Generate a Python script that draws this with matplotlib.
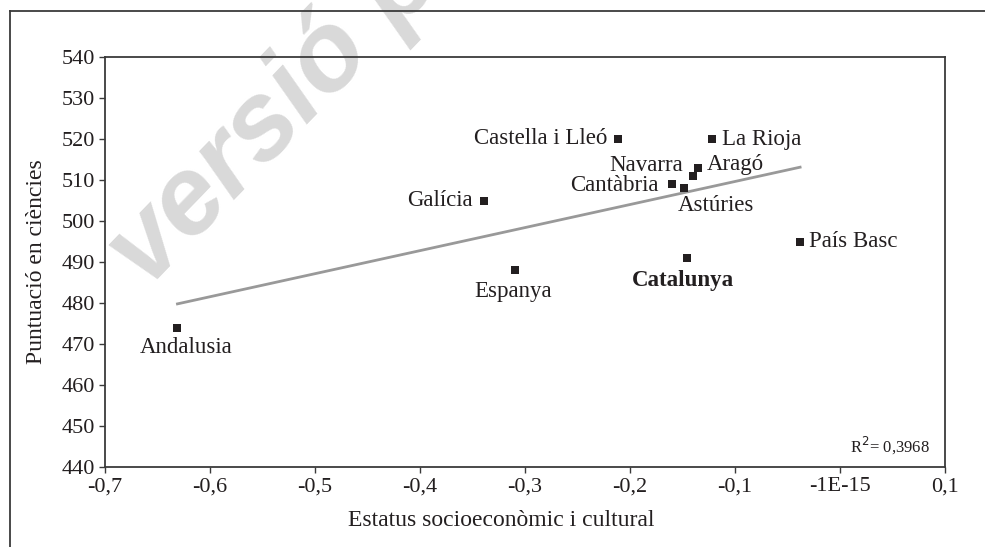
import numpy as np
import matplotlib
matplotlib.use("Agg")
import matplotlib.pyplot as plt
from matplotlib.lines import Line2D

# ---- data ----
regions = ["Andalusia", "Galícia", "Espanya", "Castella i Lleó", "Cantàbria",
           "Astúries", "Catalunya", "Navarra", "Aragó", "La Rioja", "País Basc"]
escs = [-0.631, -0.339, -0.310, -0.211, -0.160, -0.149, -0.146, -0.140, -0.135, -0.122, -0.038]
score = [474, 505, 488, 520, 509, 508, 491, 511, 513, 520, 495]
xticks = [-0.7, -0.6, -0.5, -0.4, -0.3, -0.2, -0.1, 0.0, 0.1]
xtick_labels = ["-0,7", "-0,6", "-0,5", "-0,4", "-0,3", "-0,2", "-0,1", "-1E-15", "0,1"]
yticks = [440, 450, 460, 470, 480, 490, 500, 510, 520, 530, 540]
r2_text = "R$^2$= 0,3968"

# label placement (offset in pixels, alignment)
label_pos = {
    "Andalusia": ((9, -20), "center", "center"),
    "Galícia": ((-11, 0), "right", "center"),
    "Espanya": ((-1, -21), "center", "center"),
    "Castella i Lleó": ((-11, 0), "right", "center"),
    "Cantàbria": ((-13, -1), "right", "center"),
    "Astúries": ((-6, -17), "left", "center"),
    "Catalunya": ((-4, -23), "center", "center"),
    "Navarra": ((-10, 10), "right", "center"),
    "Aragó": ((9, 3), "left", "center"),
    "La Rioja": ((10, 0), "left", "center"),
    "País Basc": ((9, 0), "left", "center"),
}

TXT = "#231f20"
LINE = "#3a3a3a"
plt.rcParams["font.family"] = ["Liberation Serif", "DejaVu Serif"]

W, H = 985, 547
fig = plt.figure(figsize=(W / 100, H / 100), dpi=100)
fig.patch.set_facecolor("white")

# watermark (behind the chart)
fig.text(0.150, 0.470, "versió p", fontsize=80, fontweight="bold", style="italic",
         family=["Liberation Sans", "DejaVu Sans"], color="#d9d9d9",
         rotation=46, rotation_mode="anchor", ha="left", va="baseline", zorder=-1)

# outer frame lines
fig.add_artist(Line2D([10 / W, 1.0], [1 - 11 / H, 1 - 11 / H], transform=fig.transFigure,
                      color=LINE, lw=1.3, zorder=1))
fig.add_artist(Line2D([10 / W, 10 / W], [0.0, 1 - 11 / H], transform=fig.transFigure,
                      color=LINE, lw=1.3, zorder=1))

L, R, T, B = 105, 945, 57, 467
ax = fig.add_axes([L / W, 1 - B / H, (R - L) / W, (B - T) / H])
ax.set_facecolor("none")
ax.set_xlim(-0.7, 0.1)
ax.set_ylim(440, 540)

# trend line
coef = np.polyfit(escs, score, 1)
xx = np.array([min(escs), max(escs)])
ax.plot(xx, np.polyval(coef, xx), color="#999999", lw=2, zorder=2)

ax.scatter(escs, score, marker="s", s=26, color=TXT, zorder=3, linewidths=0)

for name, x, y in zip(regions, escs, score):
    (dx, dy), ha, va = label_pos[name]
    ax.annotate(name, (x, y), xytext=(dx, dy), textcoords="offset pixels",
                ha=ha, va=va, fontsize=16.5, color=TXT,
                fontweight="bold" if name == "Catalunya" else "normal")

fig.text(930 / W, 1 - 452 / H, r2_text, ha="right", va="baseline",
         fontsize=12, color=TXT)

ax.set_xticks(xticks)
ax.set_xticklabels(xtick_labels)
ax.set_yticks(yticks)
ax.tick_params(axis="both", direction="out", length=4.5, width=1, color=LINE,
               labelsize=16, labelcolor=TXT, pad=3)
for sp in ax.spines.values():
    sp.set_color(LINE)
    sp.set_linewidth(1.3)

fig.text(501 / W, 1 - 520 / H, "Estatus socioeconòmic i cultural", fontsize=17,
         color=TXT, ha="center", va="center")
fig.text(37 / W, 1 - 262 / H, "Puntuació en ciències", fontsize=17, color=TXT,
         ha="center", va="center", rotation=90)

fig.savefig("out.png", dpi=100)
